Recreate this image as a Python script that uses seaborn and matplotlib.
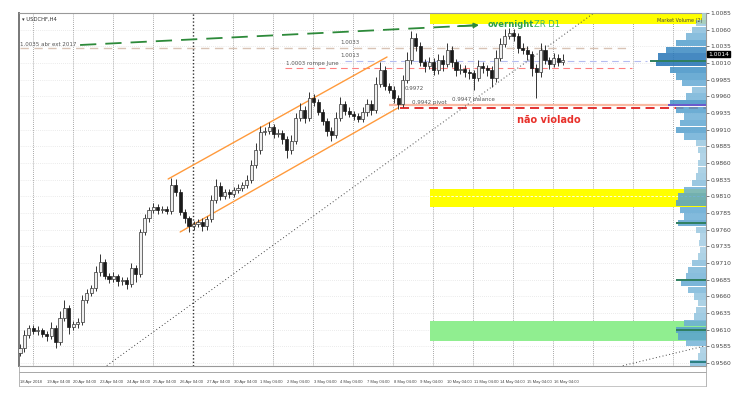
import numpy as np
import pandas as pd
import matplotlib
matplotlib.use("Agg")
import matplotlib.pyplot as plt
import matplotlib.transforms as mtransforms
from matplotlib.lines import Line2D
import seaborn as sns

# ---------------- data ----------------
symbol = "USDCHF,H4"
first_open = 0.9575
closes = [
    0.95825, 0.9602, 0.96125, 0.9608, 0.96095, 0.96035, 0.96005, 0.96125, 0.95915, 0.96275,
    0.96425, 0.9614, 0.96185, 0.96215, 0.96545, 0.9665, 0.96725, 0.96965, 0.97115, 0.96905,
    0.9686, 0.96905, 0.9683, 0.96845, 0.96785, 0.97025, 0.96935, 0.97565, 0.97775, 0.97895,
    0.9794, 0.97895, 0.9791, 0.9788, 0.9827, 0.98165, 0.97865, 0.97775, 0.97655, 0.97685,
    0.97715, 0.97655, 0.9776, 0.98045, 0.98255, 0.98105, 0.98165, 0.98135, 0.98195, 0.98225,
    0.9827, 0.98345, 0.9857, 0.98795, 0.99065, 0.9908, 0.9914, 0.99035, 0.9905, 0.9896,
    0.98795, 0.9893, 0.99275, 0.99395, 0.99275, 0.99575, 0.99515, 0.99365, 0.9923, 0.9908,
    0.9902, 0.99275, 0.99485, 0.9938, 0.99335, 0.99305, 0.9926, 0.99365, 0.99485, 0.99395,
    0.99785, 0.99995, 0.99755, 0.99695, 0.99575, 0.99485, 0.99845, 1.00145, 1.00475, 1.00355,
    1.00115, 1.00055, 1.00115, 0.99995, 1.00145, 1.00085, 1.00295, 1.00115, 0.99995, 1.0001,
    0.99965, 0.9995, 0.99875, 1.00055, 1.00025, 0.99995, 0.99875, 1.00175, 1.00385, 1.00505,
    1.0055, 1.00505, 1.00325, 1.00295, 1.00235, 1.00025, 0.99965, 1.00295, 1.00145, 1.00085,
    1.00175, 1.00115, 1.00145]
upper_wick_pips = [
    6, 8, 5, 4, 6, 3, 5, 9, 4, 10,
    12, 4, 5, 6, 8, 6, 5, 9, 12, 5,
    4, 6, 3, 5, 4, 7, 5, 4, 6, 5,
    6, 4, 5, 4, 10, 9, 5, 4, 3, 5,
    4, 6, 5, 8, 10, 6, 5, 4, 5, 6,
    4, 7, 8, 10, 9, 6, 8, 5, 6, 4,
    5, 9, 8, 10, 6, 9, 6, 5, 4, 5,
    6, 9, 10, 5, 6, 4, 5, 7, 8, 6,
    10, 12, 6, 5, 6, 5, 8, 12, 10, 8,
    6, 5, 8, 6, 9, 7, 10, 6, 5, 7,
    6, 5, 4, 9, 6, 5, 6, 12, 9, 10,
    8, 6, 5, 7, 6, 5, 6, 10, 7, 5,
    8, 6, 9]
lower_wick_pips = [
    5, 6, 4, 5, 6, 4, 8, 5, 9, 4,
    5, 10, 5, 6, 4, 5, 5, 4, 6, 5,
    6, 5, 7, 6, 8, 5, 12, 5, 4, 6,
    5, 6, 4, 5, 4, 6, 5, 7, 9, 6,
    5, 7, 6, 5, 4, 6, 5, 6, 4, 5,
    5, 4, 5, 4, 6, 5, 4, 6, 5, 7,
    12, 6, 4, 5, 7, 5, 6, 5, 6, 8,
    9, 5, 4, 6, 5, 6, 5, 4, 6, 8,
    5, 4, 6, 5, 8, 7, 5, 4, 6, 8,
    6, 9, 5, 8, 6, 10, 5, 7, 9, 6,
    8, 9, 18, 5, 7, 9, 13, 6, 4, 5,
    5, 7, 8, 6, 9, 12, 39, 8, 6, 7,
    5, 6, 4]
date_labels = ["18 Apr 2018", "19 Apr 04:00", "20 Apr 04:00", "23 Apr 04:00", "24 Apr 04:00",
               "25 Apr 04:00", "26 Apr 04:00", "27 Apr 04:00", "30 Apr 04:00", "1 May 04:00",
               "2 May 04:00", "3 May 04:00", "4 May 04:00", "7 May 04:00", "8 May 04:00",
               "9 May 04:00", "10 May 04:00", "11 May 04:00", "14 May 04:00", "15 May 04:00",
               "16 May 04:00"]
bars_per_label = 6

# drawn objects (bar index, price)
green_line_x = [13.5, 103.8]
green_line_y = [1.0037, 1.0067]
channel_upper_x = [33.3, 82.5]
channel_upper_y = [0.9836, 1.0019]
channel_lower_x = [36.0, 84.9]
channel_lower_y = [0.97565, 0.99425]
trend_x = [19.5, 129.2]
trend_y = [0.9556, 1.0086]
trend2_x = [135.5, 154.2]
trend2_y = [0.9556, 0.9586]

level_ext = 1.00325
level_blue = 1.0013
level_june = 1.00025
level_pivot = 0.99425
level_balance = 0.9947
level_mark = 0.9972

zone_start = 92.1
zone_top = (1.00685, 1.0085)
zone_yellow = (0.9794, 0.9821)
zone_yellow_mid = 0.98105
zone_green = (0.9593, 0.9623)
zone_green_mid = 0.9632

profile_prices = [round(0.9560 + 0.001 * k, 4) for k in range(53)]
profile_volume = [16, 8, 6, 20, 28, 30, 22, 12, 10, 8,
                  12, 18, 25, 20, 18, 14, 8, 6, 7, 6,
                  10, 28, 22, 26, 30, 28, 22, 14, 10, 8,
                  8, 6, 8, 10, 22, 30, 26, 22, 30, 36,
                  20, 14, 24, 30, 36, 50, 48, 40, 30, 20,
                  14, 10, 4]
highlight_prices = [1.0013, 0.9947, 0.9770, 0.9685, 0.9610, 0.9562]
highlight_volumes = [56, 38, 30, 30, 30, 16]
highlight_colors = ["#2f7f5f", "#6a5acd", "#2f7f5f", "#2f7f5f", "#2f7f5f", "#2a7f80"]

# ---------------- style ----------------
sns.set_style("white")
plt.rcParams["font.family"] = ["DejaVu Sans"]

fig = plt.figure(figsize=(7.34, 4.0), dpi=100)
W, H = 734, 400
ax = fig.add_axes([19 / W, 1 - 366 / H, 687 / W, 353 / H])
ax.set_xlim(-0.225, 154.2)
ax.set_ylim(0.95555, 1.0085)

# grid
yt = np.round(1.0085 - 0.0025 * np.arange(22), 4)
ax.set_yticks(yt)
ax.set_yticklabels([f"{v:.4f}" for v in yt])
for v in yt:
    ax.axhline(v, color="#d8d8d8", lw=0.5, ls=(0, (1, 2)), zorder=0)
for k, xg in enumerate(2.92 + 8.99 * np.arange(17)):
    dark = k == 4
    ax.axvline(xg, color="#333" if dark else "#8a8a8a", lw=1.0 if dark else 0.6,
               ls=(0, (1, 1.5)), zorder=0.2)

# zones
ax.fill_between([zone_start, 154.2], zone_top[0], zone_top[1], color="#ffff00", lw=0, zorder=0.5)
ax.fill_between([zone_start, 154.2], zone_yellow[0], zone_yellow[1], color="#ffff00", lw=0, zorder=0.5)
ax.fill_between([zone_start, 154.2], zone_green[0], zone_green[1], color="#90ee90", lw=0, zorder=0.5)
ax.hlines(zone_yellow_mid, zone_start, 154.2, colors="white", lw=0.6, ls=(0, (3, 2)), zorder=0.6)
ax.hlines(zone_green_mid, zone_start, 154.2, colors="white", lw=0.6, ls=(0, (2, 2)), zorder=0.6)

# level lines
ax.hlines(level_ext, 0, 136.6, colors="#d9c3b5", lw=1.0, ls=(0, (6, 4)), zorder=1)
ax.hlines(level_blue, 73, 141, colors="#b4bcf0", lw=0.8, ls=(0, (6, 4)), zorder=1)
ax.hlines(level_june, 59.5, 137.5, colors="#ff8080", lw=0.8, ls=(0, (6, 4)), zorder=1)
ax.hlines(level_balance, 83, 154.2, colors="#f9b9a2", lw=1.6, zorder=1)
ax.hlines(level_pivot, 85.4, 154.2, colors="#e02020", lw=1.3, ls=(0, (5, 3)), zorder=1)

# trend lines
sns.lineplot(x=trend_x, y=trend_y, ax=ax, color="#444", lw=0.7, linestyle=(0, (1, 2.5)))
sns.lineplot(x=trend2_x, y=trend2_y, ax=ax, color="#444", lw=0.7, linestyle=(0, (1, 2.5)))
sns.lineplot(x=channel_upper_x, y=channel_upper_y, ax=ax, color="#ff9a3c", lw=1.0)
sns.lineplot(x=channel_lower_x, y=channel_lower_y, ax=ax, color="#ff9a3c", lw=1.0)
sns.lineplot(x=green_line_x, y=green_line_y, ax=ax, color="#2d8a3a", lw=1.3, linestyle=(0, (9, 5)))
ax.annotate("", xy=(green_line_x[1], green_line_y[1]), xytext=(green_line_x[1] - 6, green_line_y[1] - 0.0002),
            arrowprops=dict(arrowstyle="-|>", color="#2d8a3a", lw=1.2, mutation_scale=7))

# candles
n = len(closes)
opens = [first_open] + closes[:-1]
df = pd.DataFrame({"bar": np.arange(n), "open": opens, "close": closes})
df["high"] = df[["open", "close"]].max(axis=1) + np.array(upper_wick_pips) * 1e-4
df["low"] = df[["open", "close"]].min(axis=1) - np.array(lower_wick_pips) * 1e-4
bull = df["close"] >= df["open"]
ax.vlines(df["bar"], df["low"], df["high"], color="#333", lw=0.7, zorder=3)
body = (df["close"] - df["open"]).abs().clip(lower=0.00006)
bottom = df[["open", "close"]].min(axis=1)
ax.bar(df["bar"][bull], body[bull], bottom=bottom[bull], width=0.7,
       color="#eeeeee", edgecolor="#333", lw=0.5, zorder=4)
ax.bar(df["bar"][~bull], body[~bull], bottom=bottom[~bull], width=0.7,
       color="#1a1a1a", edgecolor="#1a1a1a", lw=0.5, zorder=4)

# labels
lab = dict(fontsize=4, color="#555", zorder=6)
ax.text(green_line_x[0] - 0.8, green_line_y[0], "1.0035 abr ext 2017", ha="right", va="center", **lab)
ax.text(71.9, level_ext + 0.0004, "1.0033", ha="left", va="bottom", **lab)
ax.text(71.9, level_blue + 0.0004, "1.0013", ha="left", va="bottom", **lab)
ax.text(59.8, level_june + 0.0003, "1.0003 rompe June", ha="left", va="bottom", **lab)
ax.text(86.5, level_mark, "0.9972", ha="left", va="center", **lab)
ax.text(88.1, level_pivot + 0.0004, "0.9942 pivot", ha="left", va="bottom", **lab)
ax.text(97.1, level_balance + 0.0005, "0.9947 balance", ha="left", va="bottom", **lab)
ax.text(105.2, 1.0068, "overnight", color="#2aa04a", fontsize=6, fontweight="bold", va="center", ha="left", zorder=6)
ax.text(115.6, 1.0068, "ZR D1", color="#3db865", fontsize=6, va="center", ha="left", zorder=6)
ax.text(111.7, 0.99245, "não violado", color="#e8302a", fontsize=7, fontweight="bold", va="center", ha="left", zorder=6)
ax.text(0.995, 0.985, "Market Volume (2)", transform=ax.transAxes, fontsize=3.5, color="#444",
        ha="right", va="top", zorder=6)
ax.text(0.005, 0.99, "\u25be " + symbol, transform=ax.transAxes, fontsize=3.8, color="#333",
        ha="left", va="top", zorder=6)

# volume profile
axp = ax.inset_axes([(640 - 19) / 687, 0, 66 / 687, 1], sharey=ax)
axp.set_xlim(66, 0)
axp.axis("off")
axp.patch.set_alpha(0)
cmap = sns.color_palette("Blues", as_cmap=True)
vmax = max(profile_volume)
pcols = [cmap(0.3 + 0.45 * v / vmax) for v in profile_volume]
axp.barh(profile_prices, profile_volume, height=0.00095, color=pcols, alpha=0.85, lw=0)
axp.hlines(highlight_prices, 0, highlight_volumes, colors=highlight_colors, lw=1.4)
axp.set_ylim(0.95555, 1.0085)

# axes look
ax.yaxis.tick_right()
ax.tick_params(axis="y", labelsize=4.3, length=2, pad=1, colors="#444", width=0.5)
ax.set_xticks(np.arange(0, n, bars_per_label))
ax.set_xticklabels(date_labels, ha="left", fontfamily="Liberation Sans")
ax.tick_params(axis="x", labelsize=3.0, length=0, pad=10, colors="#444")
for s in ["top", "right", "bottom"]:
    ax.spines[s].set_color("#999")
    ax.spines[s].set_linewidth(0.8)
ax.spines["left"].set_color("#777")
ax.spines["left"].set_linewidth(1.4)
ax.set_xlabel("")
ax.set_ylabel("")

# current price box
tr = mtransforms.blended_transform_factory(ax.transAxes, ax.transData)
ax.text(1.003, closes[-1] + 0.0009, f"{closes[-1]:.4f}", transform=tr, fontsize=4.3, color="white",
        ha="left", va="center", zorder=7, bbox=dict(boxstyle="square,pad=0.15", fc="black", ec="black"))

# frame strip lines
for yy, c in [(372, "#999"), (386, "#bbb")]:
    fig.add_artist(Line2D([19 / W, 706 / W], [1 - yy / H] * 2, color=c, lw=0.6))
for xx in [19, 706]:
    fig.add_artist(Line2D([xx / W] * 2, [1 - 366 / H, 1 - 386 / H], color="#aaa", lw=0.6))

fig.savefig("out.png", dpi=100)
